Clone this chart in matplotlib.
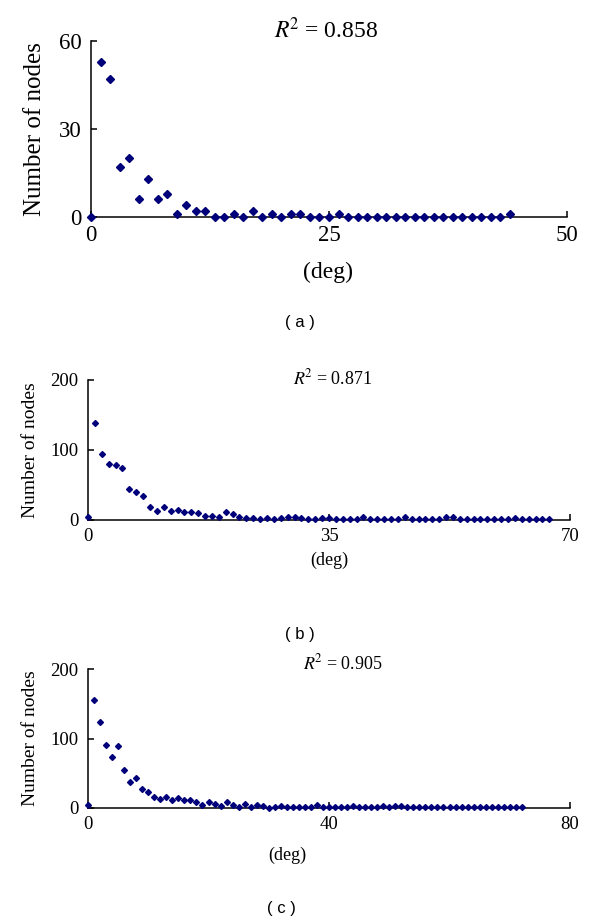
import matplotlib
matplotlib.use("Agg")
import matplotlib.pyplot as plt

plt.rcParams['font.family'] = ['Liberation Serif', 'DejaVu Serif']
plt.rcParams['mathtext.fontset'] = 'stix'

# node-degree distributions
deg_a = list(range(0, 45))
nodes_a = [0, 53, 47, 17, 20, 6, 13, 6, 8, 1, 4, 2, 2, 0, 0, 1, 0, 2, 0, 1,
           0, 1, 1, 0, 0, 0, 1, 0, 0, 0, 0, 0, 0, 0, 0, 0, 0, 0, 0, 0,
           0, 0, 0, 0, 1]

deg_b = list(range(0, 68))
nodes_b = [4, 138, 94, 80, 78, 74, 45, 40, 35, 19, 13, 19, 13, 15, 12, 12, 10, 6, 6, 5,
           12, 8, 5, 3, 3, 2, 3, 2, 3, 4, 4, 3, 2, 2, 3, 3, 2, 2, 2, 1,
           4, 2, 1, 2, 2, 2, 4, 2, 1, 2, 2, 1, 4, 5, 2, 1, 2, 1, 2, 1,
           2, 1, 3, 2, 1, 1, 2, 2]

deg_c = list(range(0, 73))
nodes_c = [4, 155, 124, 90, 74, 89, 54, 38, 43, 28, 23, 16, 13, 16, 12, 15, 11, 11, 9, 5,
           8, 6, 3, 8, 4, 2, 6, 2, 4, 3, 0, 2, 3, 2, 1, 2, 2, 1, 5, 1,
           1, 2, 1, 2, 3, 2, 1, 2, 2, 3, 2, 3, 3, 2, 2, 2, 1, 2, 1, 2,
           2, 1, 2, 1, 2, 1, 1, 1, 1, 1, 1, 1, 1]

r2_labels = ['0.858', '0.871', '0.905']
panel_tags = ['( a )', '( b )', '( c )']

W, H = 600, 917
fig = plt.figure(figsize=(W / 100, H / 100), dpi=100)


def px(x, y):
    return x / W, 1 - y / H


def make_panel(rect, xs, ys, xlim, xticks, ylim, yticks, fs, lfs, ms, lpad):
    l, t, r, b = rect
    ax = fig.add_axes([l / W, 1 - b / H, (r - l) / W, (b - t) / H])
    ax.plot(xs, ys, ls='none', marker='D', ms=ms, color='#00007a',
            mec='#00007a', clip_on=False, zorder=3)
    ax.set_xlim(*xlim)
    ax.set_ylim(*ylim)
    ax.set_xticks(xticks)
    ax.set_yticks(yticks)
    for s in ['top', 'right']:
        ax.spines[s].set_visible(False)
    for s in ['left', 'bottom']:
        ax.spines[s].set_linewidth(1.1)
    ax.tick_params(direction='in', length=4, width=1.1, labelsize=fs)
    ax.tick_params(axis='y', pad=7)
    ax.tick_params(axis='x', pad=6)
    ax.set_ylabel('Number of nodes', fontsize=lfs, labelpad=lpad)
    return ax


ax_a = make_panel((91, 41, 567, 217), deg_a, nodes_a, (0, 50), [0, 25, 50],
                  (0, 60), [0, 30, 60], 16.5, 18, 3.8, 9)
ax_b = make_panel((88, 380, 570, 520), deg_b, nodes_b, (0, 70), [0, 35, 70],
                  (0, 200), [0, 100, 200], 13.5, 14, 3.0, 8)
ax_c = make_panel((88, 669, 570, 808), deg_c, nodes_c, (0, 80), [0, 40, 80],
                  (0, 200), [0, 100, 200], 13.5, 14, 3.0, 8)

# R^2 annotations
fig.text(*px(326, 30), r'$R^{\!2}$ = ' + r2_labels[0], fontsize=17, ha='center', va='center')
fig.text(*px(333, 378), r'$R^{\!2}$ = ' + r2_labels[1], fontsize=13, ha='center', va='center')
fig.text(*px(343, 663), r'$R^{\!2}$ = ' + r2_labels[2], fontsize=13, ha='center', va='center')

# x labels
fig.text(*px(328, 272), '(deg)', fontsize=17, ha='center', va='center')
fig.text(*px(329, 560), '(deg)', fontsize=13, ha='center', va='center')
fig.text(*px(287, 855), '(deg)', fontsize=13, ha='center', va='center')

# panel tags
for (x, y), tag in zip([(300, 323), (300, 634), (281, 908)], panel_tags):
    fig.text(*px(x, y), tag, fontsize=12, ha='center', va='center', family='Liberation Sans')

fig.savefig('out.png', dpi=100)
